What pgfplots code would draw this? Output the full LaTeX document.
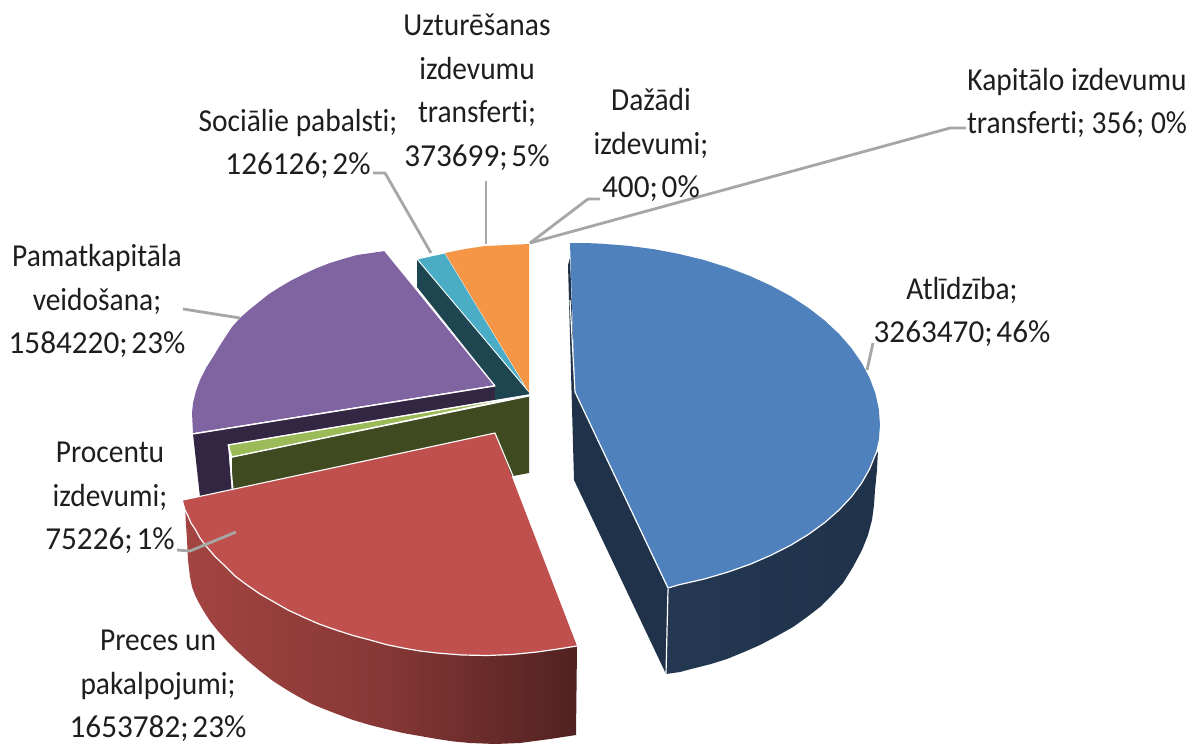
\documentclass[border=0pt]{standalone}
\usepackage{pgfplots}
\usepackage{fontspec}
\setmainfont{Carlito}[Ligatures=NoCommon]
\pgfplotsset{compat=1.18}
\definecolor{bluetop}{RGB}{79,129,189}
\definecolor{bluedark}{RGB}{31,50,74}
\definecolor{bluedarkb}{RGB}{37,56,82}
\definecolor{redtop}{RGB}{192,80,77}
\definecolor{purpletop}{RGB}{128,100,162}
\definecolor{purpledark}{RGB}{50,38,66}
\definecolor{tealtop}{RGB}{75,172,198}
\definecolor{tealdark}{RGB}{29,70,80}
\definecolor{orangetop}{RGB}{245,150,70}
\definecolor{greentop}{RGB}{155,187,89}
\definecolor{greendark}{RGB}{64,74,33}
\definecolor{leader}{RGB}{166,166,166}
\definecolor{txt}{RGB}{30,30,30}
\newcommand{\nm}[2]{\scalebox{1.06}[1]{#1;\hspace{.12em}#2}}
\begin{document}
\begin{tikzpicture}
\path[use as bounding box] (0,0) rectangle (1189pt,747pt);
\begin{axis}[hide axis,scale only axis,width=1189pt,height=747pt,
  xmin=0,xmax=1189,ymin=0,ymax=747,y dir=reverse,clip=false,
  every axis plot/.append style={line join=round}]
% purple wall
\addplot[fill=purpledark,draw=none] coordinates {(193,434)(495,386)(495,401)(228,445)(232,495)(200,497)} --cycle;
% teal wall
\addplot[fill=tealdark,draw=none] coordinates {(417,259)(529,392)(529,396)(495,402)(495,385)(417,287)} --cycle;
% olive wall
\addplot[fill=greendark,draw=none] coordinates {(529,396)(232,457)(232,495)(513,476)(529,473)} --cycle;
% light green top
\addplot[fill=greentop,draw=white,line width=1pt] coordinates {(228,445)(529,395)(232,457)} --cycle;
\addplot[white,line width=1.2pt] coordinates {(229,446)(233,490)};
% blue walls
\addplot[fill=bluedark,draw=none] coordinates {(570,258)(568,265)(574,480)(666,674)(668,589)(575,392)} --cycle;
\addplot[left color=bluedarkb,right color=bluedark,draw=none] coordinates {(668,588)(666,674)(680,672)(695,668)(711,664)(727,659)(744,652)(760,645)(777,636)(793,627)(807,617)(820,607)(832,595)(843,583)(853,567)(862,550)(868,535)(872,520)(874,505)(875,490)(877,470)(878,450)(875.4,454.5)(869.6,469)(861.6,483.1)(851.4,496.8)(839.1,510)(824.8,522.5)(808.6,534.3)(790.7,545.2)(771,555.2)(750,564.3)(727.5,572.2)(703.9,579.1)(679.3,584.7)} --cycle;
\addplot[white,line width=1.2pt] coordinates {(668,589)(666,674)};
% blue top
\addplot[fill=bluetop,draw=none] coordinates {(570,243)(585,243)(601.6,243.7)(628,245.8)(654,249.2)(679.3,254)(703.9,260)(727.5,267.4)(750,276)(771,285.6)(790.7,296.3)(808.6,308)(824.8,320.6)(839.1,334)(851.4,348.1)(861.6,362.8)(869.6,377.9)(875.4,393.4)(878.8,409.1)(880,425)(878.8,439.8)(875.4,454.5)(869.6,469)(861.6,483.1)(851.4,496.8)(839.1,510)(824.8,522.5)(808.6,534.3)(790.7,545.2)(771,555.2)(750,564.3)(727.5,572.2)(703.9,579.1)(679.3,584.7)(668,588)(575,392)} --cycle;
\addplot[white,line width=1.2pt] coordinates {(878,450)(875.4,454.5)(869.6,469)(861.6,483.1)(851.4,496.8)(839.1,510)(824.8,522.5)(808.6,534.3)(790.7,545.2)(771,555.2)(750,564.3)(727.5,572.2)(703.9,579.1)(679.3,584.7)(668,588)(575,392)(570,300)};
% teal and orange tops
\addplot[fill=tealtop,draw=white,line width=.9pt] coordinates {(417,259)(445,253)(529,392)} --cycle;
\addplot[fill=orangetop,draw=none] coordinates {(445,253)(465,249)(485,246)(507,245)(529,244)(529,392)} --cycle;
% purple top
\addplot[fill=purpletop,draw=none] coordinates {(193,433)(192,413)(193,403)(196,391)(200,380)(206,368)(213,357)(219,347)(226,336)(232,327)(240,318)(249,310)(259,302)(269,294)(280,287)(292,280)(304,274)(317,268)(330,263)(343,259)(357,255)(371,253)(385,251)(495,385)} --cycle;
\addplot[white,line width=1.2pt] coordinates {(193,434)(495,386)(385,251)};
\addplot[white,line width=1.2pt] coordinates {(228,445)(529,395)};
\addplot[white,line width=1.2pt] coordinates {(232,457)(529,396)};
% red wall
\addplot[left color=redtop!85!black,right color=redtop!42!black,middle color=redtop!70!black,draw=none] coordinates {(185,507)(186,525)(187,540)(188,560)(190,577)(192,587)(195,595)(199,603)(203,610)(210,621)(218,631)(227,641)(237,651)(248,661)(260,671)(273,681)(287,690)(299,697)(312,704)(324,709)(337,714)(353,720)(370,725)(386,729)(403,733)(420,736)(437,739)(454,741.5)(470,743)(495,744)(520,743)(550,739)(576,735)(577,646)(558,649)(537,652)(512,654.5)(487,655.5)(462,655)(437,653)(420,651)(403,648)(386,644.5)(370,640)(353,635.5)(336,630)(319,624)(303,617)(288,610)(274,602)(260,594)(247,585)(235,576)(225,566)(215,556.5)(206,546)(200,538)(195,529)(191,523)(188,516)} --cycle;
% red top
\addplot[fill=redtop,draw=none] coordinates {(183,500)(495,433)(577,646)(558,649)(537,652)(512,654.5)(487,655.5)(462,655)(437,653)(420,651)(403,648)(386,644.5)(370,640)(353,635.5)(336,630)(319,624)(303,617)(288,610)(274,602)(260,594)(247,585)(235,576)(225,566)(215,556.5)(206,546)(200,538)(195,529)(191,523)(188,516)(185,510)} --cycle;
\addplot[white,line width=1.2pt] coordinates {(183,503)(185,510)(188,516)(191,523)(195,529)(200,538)(206,546)(215,556.5)(225,566)(235,576)(247,585)(260,594)(274,602)(288,610)(303,617)(319,624)(336,630)(353,635.5)(370,640)(386,644.5)(403,648)(420,651)(437,653)(462,655)(487,655.5)(512,654.5)(537,652)(558,649)(577,646)};
\addplot[white,line width=1.1pt] coordinates {(183,500)(495,433)(513,476)};
% leader lines
\addplot[leader,line width=2.8pt] coordinates {(530,243)(950,128)(966,128)};
\addplot[leader,line width=2.8pt] coordinates {(530,243)(588,199)(600,199)};
\addplot[leader,line width=2.8pt] coordinates {(486,244)(486,181)};
\addplot[leader,line width=2.8pt] coordinates {(431,253)(385,173)(373,173)};
\addplot[leader,line width=2.8pt] coordinates {(240,318)(183,309)};
\addplot[leader,line width=2.8pt] coordinates {(867,370)(873,343)};
\addplot[leader,line width=2.8pt] coordinates {(177,550)(190,551)(236,532)};
% labels
\tikzset{lab/.style={align=center,xscale=.92,text=txt,font=\fontsize{32}{43.5}\selectfont,inner sep=0pt}}
\node[lab] at (axis cs:477,92) {Uzturēšanas\\izdevumu\\transferti;\\\nm{373699}{5\%}};
\node[lab] at (axis cs:651,145) {Dažādi\\izdevumi;\\\nm{400}{0\%}};
\node[lab] at (axis cs:1077,103) {Kapitālo izdevumu\\transferti; 356; 0\%};
\node[lab] at (axis cs:298,144) {Sociālie pabalsti;\\\nm{126126}{2\%}};
\node[lab] at (axis cs:97,301) {Pamatkapitāla\\veidošana;\\\nm{1584220}{23\%}};
\node[lab] at (axis cs:962,312) {Atlīdzība;\\\nm{3263470}{46\%}};
\node[lab] at (axis cs:110,498) {Procentu\\izdevumi;\\\nm{75226}{1\%}};
\node[lab] at (axis cs:158,686) {Preces un\\pakalpojumi;\\\nm{1653782}{23\%}};
\end{axis}
\end{tikzpicture}
\end{document}
